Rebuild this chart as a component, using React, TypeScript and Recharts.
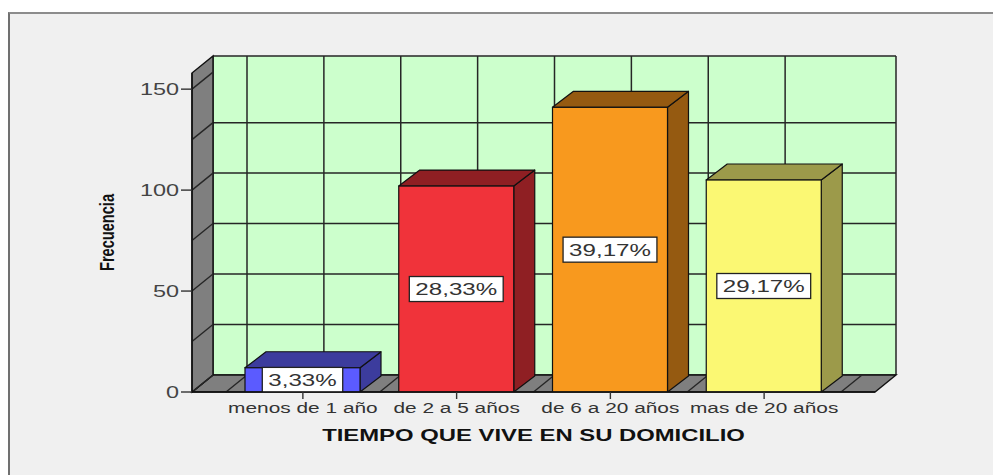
import React from 'react';
import {
  Bar,
  CartesianGrid,
  ComposedChart,
  Label,
  ReferenceArea,
  XAxis,
  YAxis,
} from 'recharts';

// datos
const categories = ['menos de 1 año', 'de 2 a 5 años', 'de 6 a 20 años', 'mas de 20 años'];
const frecuencias = [12, 102, 141, 105];
const porcentajes = ['3,33%', '28,33%', '39,17%', '29,17%'];
const yTicks = [0, 50, 100, 150];
const wallTicks = [0, 25, 50, 75, 100, 125, 150];

const data = categories.map((name, i) => ({ name, i, frecuencia: frecuencias[i], pct: porcentajes[i] }));

const barColors = [
  { front: '#5b5bff', dark: '#3c3c9d' },
  { front: '#f0333a', dark: '#8f1f23' },
  { front: '#f8991e', dark: '#955a11' },
  { front: '#fbf873', dark: '#9c9a4a' },
];

const W = 993;
const H = 475;
const YMAX = 158;
const FRONT = { left: 192, right: 875, top: 73, bottom: 392 };
const DX = 21;
const DY = -17;
const PAD = 34;
const SX = 1.42; // el original esta estirado en horizontal
const FONT = '"Liberation Sans", Arial, sans-serif';
const LINE = '#262626';

// rango numerico del eje de la pared del fondo (mismas bandas que el eje de categorias)
const band = (FRONT.right - FRONT.left - 2 * PAD) / categories.length;
const xLo = -(PAD + band / 2) / band;
const xHi = categories.length - 1 - xLo;
const wallX = [xLo, ...Array.from({ length: 2 * categories.length + 1 }, (_, k) => -0.5 + k / 2), xHi];

const charW: Record<string, number> = { ',': 0.278, '%': 0.889 };
const textWidth = (s: string, size: number) =>
  s.split('').reduce((a, ch) => a + (charW[ch] ?? 0.556), 0) * size * SX;

function Bar3D(props: any) {
  const { x, y, width, height, index } = props;
  const c = barColors[index];
  const bdy = -16;
  const top = `${x},${y} ${x + DX},${y + bdy} ${x + width + DX},${y + bdy} ${x + width},${y}`;
  const side = `${x + width},${y} ${x + width + DX},${y + bdy} ${x + width + DX},${y + height + bdy} ${x + width},${y + height}`;
  const txt = porcentajes[index];
  const bw = textWidth(txt, 17) + 12;
  const bh = 25;
  const cx = x + width / 2;
  const cy = y + height / 2;
  return (
    <g>
      <polygon points={side} fill={c.dark} stroke="#111" strokeWidth={1.2} strokeLinejoin="round" />
      <polygon points={top} fill={c.dark} stroke="#111" strokeWidth={1.2} strokeLinejoin="round" />
      <rect x={x} y={y} width={width} height={height} fill={c.front} stroke="#111" strokeWidth={1.2} />
      <rect x={cx - bw / 2} y={cy - bh / 2} width={bw} height={bh} fill="#fff" stroke="#222" strokeWidth={1.3} />
      <text
        transform={`translate(${cx},${cy + 6}) scale(${SX},1)`}
        textAnchor="middle"
        fontFamily={FONT}
        fontSize={17}
        fill="#333"
      >
        {txt}
      </text>
    </g>
  );
}

// suelo y pared izquierda, a partir del area de la pared del fondo
function FloorAndSide(props: any) {
  const { x, y, width, height } = props;
  const fx = x - DX;
  const fy = y + height - DY;
  const fTop = y - DY;
  const bandPx = (width - 2 * PAD) / categories.length;
  const floorX = [0, ...Array.from({ length: 2 * categories.length + 1 }, (_, k) => PAD + (k * bandPx) / 2)];
  return (
    <g>
      <polygon
        points={`${fx},${fy} ${fx + width},${fy} ${x + width},${y + height} ${x},${y + height}`}
        fill="#7f7f7f"
        stroke="#111"
        strokeWidth={1.4}
      />
      {floorX.map((o, k) => (
        <line key={'f' + k} x1={fx + o} y1={fy} x2={x + o} y2={y + height} stroke={LINE} strokeWidth={1.4} />
      ))}
      <polygon
        points={`${fx},${fTop} ${x},${y} ${x},${y + height} ${fx},${fy}`}
        fill="#7f7f7f"
        stroke="#111"
        strokeWidth={1.4}
      />
      {wallTicks.map((v) => {
        const yy = y + height * (1 - v / YMAX);
        return <line key={'w' + v} x1={fx} y1={yy - DY} x2={x} y2={yy} stroke={LINE} strokeWidth={1.4} />;
      })}
    </g>
  );
}

function XTick(props: any) {
  const { x, y, payload } = props;
  return (
    <text
      transform={`translate(${x},${y + 12}) scale(${SX},1)`}
      textAnchor="middle"
      fontFamily={FONT}
      fontSize={14.7}
      fill="#333"
    >
      {payload.value}
    </text>
  );
}

function YTick(props: any) {
  const { x, y, payload } = props;
  return (
    <text
      transform={`translate(${x},${y + 6}) scale(${SX},1)`}
      textAnchor="end"
      fontFamily={FONT}
      fontSize={16.5}
      fill="#444"
    >
      {payload.value}
    </text>
  );
}

function XTitle(props: any) {
  const vb = props.viewBox;
  return (
    <text
      transform={`translate(${vb.x + vb.width / 2},${vb.y + 49}) scale(${SX},1)`}
      textAnchor="middle"
      fontFamily={FONT}
      fontWeight="bold"
      fontSize={16.8}
      fill="#111"
    >
      TIEMPO QUE VIVE EN SU DOMICILIO
    </text>
  );
}

function YTitle(props: any) {
  const vb = props.viewBox;
  return (
    <text
      transform={`translate(${vb.x - 18},${vb.y + vb.height / 2}) scale(${SX},1) rotate(-90)`}
      textAnchor="middle"
      fontFamily={FONT}
      fontWeight="bold"
      fontSize={14.6}
      fill="#111"
    >
      Frecuencia
    </text>
  );
}

export default function App() {
  return (
    <div style={{ position: 'absolute', left: 0, top: 0, width: W, height: H, background: '#fff', overflow: 'hidden' }}>
      <div
        style={{
          position: 'absolute',
          left: 8,
          top: 12,
          width: W,
          height: H,
          background: '#f0f0f0',
          borderTop: '2px solid #8c8c8c',
          borderLeft: '2px solid #707070',
        }}
      />
      {/* pared del fondo */}
      <div style={{ position: 'absolute', left: 0, top: 0 }}>
        <ComposedChart
          width={W}
          height={H}
          data={data}
          margin={{ top: FRONT.top + DY, right: W - FRONT.right - DX, bottom: H - FRONT.bottom - DY, left: FRONT.left + DX }}
        >
          <XAxis
            dataKey="i"
            type="number"
            domain={[xLo, xHi]}
            ticks={wallX}
            allowDataOverflow
            hide
          />
          <YAxis type="number" domain={[0, YMAX]} ticks={[...wallTicks, YMAX]} allowDataOverflow hide />
          <CartesianGrid fill="#ccffcc" stroke={LINE} strokeWidth={1.5} />
          <ReferenceArea x1={xLo} x2={xHi} y1={0} y2={YMAX} shape={FloorAndSide} />
        </ComposedChart>
      </div>
      {/* barras y ejes */}
      <div style={{ position: 'absolute', left: 0, top: 0 }}>
        <ComposedChart
          width={W}
          height={H}
          data={data}
          margin={{ top: FRONT.top, right: W - FRONT.right, bottom: H - FRONT.bottom - 40, left: FRONT.left - 60 }}
        >
          <XAxis
            dataKey="name"
            height={40}
            padding={{ left: PAD, right: PAD }}
            interval={0}
            tickSize={7}
            tickLine={{ stroke: '#333', strokeWidth: 1.4 }}
            axisLine={{ stroke: '#111', strokeWidth: 1.4 }}
            tick={<XTick />}
          >
            <Label content={XTitle} />
          </XAxis>
          <YAxis
            width={60}
            domain={[0, YMAX]}
            ticks={yTicks}
            allowDataOverflow
            tickSize={11}
            tickMargin={2}
            tickLine={{ stroke: '#333', strokeWidth: 1.4 }}
            axisLine={{ stroke: '#111', strokeWidth: 1.4 }}
            tick={<YTick />}
          >
            <Label content={YTitle} />
          </YAxis>
          <Bar dataKey="frecuencia" barSize={115} shape={Bar3D} isAnimationActive={false} />
        </ComposedChart>
      </div>
    </div>
  );
}
